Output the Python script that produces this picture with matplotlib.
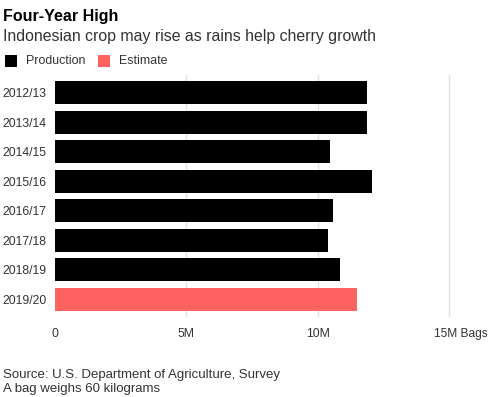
import matplotlib
matplotlib.use("Agg")
import matplotlib.pyplot as plt
from matplotlib.patches import Rectangle

plt.rcParams['font.family'] = ['Liberation Sans', 'DejaVu Sans']

seasons = ["2012/13", "2013/14", "2014/15", "2015/16", "2016/17", "2017/18", "2018/19", "2019/20"]
bags_millions = [11.89, 11.89, 10.47, 12.08, 10.57, 10.40, 10.86, 11.48]
kinds = ["Production"] * 7 + ["Estimate"]
tick_values = [0, 5, 10, 15]
tick_labels = ["0", "5M", "10M", "15M Bags"]

colors = {"Production": "#000000", "Estimate": "#ff6361"}
text_color = "#333333"

W, H = 492, 397
fig = plt.figure(figsize=(W / 100, H / 100), dpi=100)
fig.patch.set_facecolor("white")

px_per_m = 26.27
x_max = 15.2
left_px, top_px, bottom_px = 55, 75, 317
right_px = left_px + x_max * px_per_m
ax = fig.add_axes([left_px / W, 1 - bottom_px / H, (right_px - left_px) / W, (bottom_px - top_px) / H])

ypos = list(range(len(seasons)))
ax.barh(ypos, bags_millions, height=0.78, color=[colors[k] for k in kinds], zorder=2)
ax.set_ylim(len(seasons) - 1 + 0.59, -0.59)
ax.set_xlim(0, x_max)

ax.set_xticks(tick_values)
ax.set_xticklabels(tick_labels[:-1] + [""])
ax.set_yticks(ypos)
ax.set_yticklabels(seasons)
for v in tick_values[1:]:
    ax.axvline(v, color="#e2e2e2", lw=1, zorder=1)

for s in ax.spines.values():
    s.set_visible(False)
ax.tick_params(axis="both", length=0, labelsize=8.8, colors=text_color)
ax.tick_params(axis="x", pad=8)
ax.tick_params(axis="y", pad=6)

# last tick label with unit, "15M" centred on its gridline
ax.annotate(tick_labels[-1], xy=(tick_values[-1], 0), xycoords=("data", "axes fraction"),
            xytext=(-11, -8), textcoords="offset points", ha="left", va="top",
            fontsize=8.6, color=text_color, annotation_clip=False)

fig.text(3 / W, 1 - 16 / H, "Four-Year High", fontsize=11.5, fontweight="bold", color="#000000", va="center", ha="left")
fig.text(3 / W, 1 - 36 / H, "Indonesian crop may rise as rains help cherry growth", fontsize=11.4, color=text_color, va="center", ha="left")

# legend
leg_y = 61
for x0, label, key in [(5, "Production", "Production"), (98, "Estimate", "Estimate")]:
    fig.patches.append(Rectangle((x0 / W, 1 - (leg_y + 6) / H), 12 / W, 12 / H,
                                 transform=fig.transFigure, facecolor=colors[key], edgecolor="none"))
    fig.text((x0 + 21) / W, 1 - leg_y / H, label, fontsize=8.9, color=text_color, va="center", ha="left")

fig.text(3 / W, 1 - 375 / H, "Source: U.S. Department of Agriculture, Survey", fontsize=9.5, color=text_color, va="center", ha="left")
fig.text(3 / W, 1 - 389 / H, "A bag weighs 60 kilograms", fontsize=9.5, color=text_color, va="center", ha="left")

fig.savefig("out.png", dpi=100, facecolor="white")
